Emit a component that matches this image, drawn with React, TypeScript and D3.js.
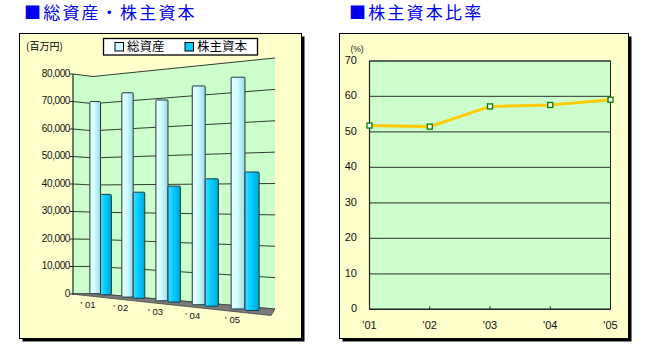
import React from "react";
import * as d3 from "d3";

// data
const years = ["01", "02", "03", "04", "05"];
const totalAssets = [70700, 73100, 69800, 73800, 75800]; // 総資産 (百万円)
const equity = [36600, 37600, 39900, 42500, 44800]; // 株主資本 (百万円)
const equityRatio = [51.8, 51.5, 57.2, 57.6, 59.1]; // 株主資本比率 (%)
const amountTicks = [0, 10000, 20000, 30000, 40000, 50000, 60000, 70000, 80000];
const ratioTicks = [0, 10, 20, 30, 40, 50, 60, 70];
const seriesNames = ["総資産", "株主資本"];

const JP = "'Noto Sans CJK JP', sans-serif";
const NUM = "'Liberation Sans', Arial, sans-serif";
const FRAME_BG = "#FFFFCC";
const PLOT_BG = "#CCFFCC";

// ---------- 3D bar chart (left) ----------
function AssetChart() {
  // horizontal position in "column units", then a simple perspective
  const uBand = d3.scaleBand<string>().domain(years).range([-0.5, 4.5]).paddingInner(0.32).paddingOuter(0.16);
  const uSeries = d3.scaleBand<string>().domain(seriesNames).range([0, uBand.bandwidth()]);
  const vScale = d3.scaleLinear().domain([0, 80000]).range([0, 218.4]);

  const C = -0.0308;
  const k = (u: number) => 1 / (1 + C * u);
  const kv = (u: number) => 1 / (1 - 0.028 * u); // vertical growth is a bit weaker
  const px = (u: number) => 100.5 + 31.67 * u * k(u);
  const base = (u: number) => 294.2 + 3.4 * u * k(u);

  // back wall / side wall edges
  const xSide = 73, xKink = 93, xRight = 275;
  const ySide = d3.scaleLinear().domain([0, 80000]).range([294, 74]);
  const yKink = d3.scaleLinear().domain([0, 80000]).range([293.5, 76.5]);
  const yRight = d3.scaleLinear().domain([0, 80000]).range([309, 58]);

  const wall = [
    [xSide, ySide(80000)], [xKink, yKink(80000)], [xRight, yRight(80000)],
    [xRight, yRight(0)], [xKink, yKink(0)], [xSide, ySide(0)],
  ];
  const line = d3.line();

  const uMin = -0.72, uMax = 4.62;
  const floor = [
    [xSide, ySide(0)], [xKink, yKink(0)], [xRight, yRight(0)],
    [px(uMax), base(uMax) + 3], [px(uMin), base(uMin) + 3],
  ];

  const bars: { x0: number; x1: number; y: number; h: number; s: number }[] = [];
  years.forEach((yr, i) => {
    [totalAssets[i], equity[i]].forEach((v, s) => {
      const u0 = (uBand(yr) as number) + (uSeries(seriesNames[s]) as number);
      const u1 = u0 + uSeries.bandwidth();
      const um = (u0 + u1) / 2;
      const h = vScale(v) * kv(um);
      bars.push({ x0: px(u0), x1: px(u1), y: base(um) - h, h, s });
    });
  });

  return (
    <g>
      <rect x={22.5} y={36.5} width={282} height={305} fill="#000" />
      <rect x={19.5} y={33.5} width={282} height={305} fill={FRAME_BG} stroke="#000" strokeWidth={1} />
      <text x={26} y={50} fontFamily={JP} fontSize={10} fill="#000">(百万円)</text>

      <path d={line(wall as [number, number][]) + "Z"} fill={PLOT_BG} />
      {amountTicks.map((t) => (
        <polyline
          key={t}
          points={`${xSide},${ySide(t)} ${xKink},${yKink(t)} ${xRight},${yRight(t)}`}
          fill="none"
          stroke="#2f3f2f"
          strokeWidth={1}
        />
      ))}
      <path d={line(floor as [number, number][]) + "Z"} fill="#7a7a7a" stroke="#444" strokeWidth={0.8} />

      <line x1={xSide} x2={xSide} y1={ySide(80000)} y2={ySide(0) + 1} stroke="#222" strokeWidth={1.2} />
      {amountTicks.map((t) => (
        <g key={t}>
          <line x1={xSide - 3} x2={xSide} y1={ySide(t)} y2={ySide(t)} stroke="#222" />
          <text
            x={xSide - 3}
            y={ySide(t)}
            textAnchor="end"
            dominantBaseline="middle"
            fontFamily={NUM}
            fontSize={10}
            letterSpacing={-0.4}
            fill="#111"
          >
            {d3.format(",")(t)}
          </text>
        </g>
      ))}

      {bars.map((b, i) => (
        <rect
          key={i}
          x={b.x0}
          y={b.y}
          width={b.x1 - b.x0}
          height={b.h}
          rx={1}
          fill={b.s === 0 ? "url(#gTotal)" : "url(#gEquity)"}
          stroke="#1c3a44"
          strokeWidth={1}
        />
      ))}

      {years.map((yr, i) => {
        const u = (uBand(yr) as number) + uBand.bandwidth() / 2;
        return (
          <text
            key={yr}
            x={px(u) - 12.5}
            y={base(u) + 11}
            textAnchor="middle"
            dominantBaseline="middle"
            fontFamily={NUM}
            fontSize={9.5}
            fill="#111"
          >
            {"' " + yr}
          </text>
        );
      })}

      {/* legend */}
      <rect x={103.5} y={38.5} width={154} height={16.5} fill="#fff" stroke="#000" strokeWidth={1.3} />
      <rect x={115} y={42.5} width={8.5} height={8.5} fill="#CCFFFF" stroke="#000" strokeWidth={1} />
      <text x={127} y={47.5} dominantBaseline="middle" fontFamily={JP} fontSize={12.5} fill="#000">総資産</text>
      <rect x={185} y={42.5} width={8.5} height={8.5} fill="#00CCFF" stroke="#000" strokeWidth={1} />
      <text x={197} y={47.5} dominantBaseline="middle" fontFamily={JP} fontSize={12.5} fill="#000">株主資本</text>
    </g>
  );
}

// ---------- line chart (right) ----------
function RatioChart() {
  const x = d3.scalePoint<string>().domain(years).range([369.5, 610.5]);
  const y = d3.scaleLinear().domain([0, 70]).range([309.3, 61]);
  const path = d3
    .line<number>()
    .x((_, i) => x(years[i]) as number)
    .y((d) => y(d))(equityRatio);

  return (
    <g>
      <rect x={342.5} y={36.5} width={289} height={305} fill="#000" />
      <rect x={339.5} y={33.5} width={289} height={305} fill={FRAME_BG} stroke="#000" strokeWidth={1} />
      <rect x={369.5} y={y(70)} width={241} height={y(0) - y(70)} fill={PLOT_BG} stroke="#222" strokeWidth={1} />
      {ratioTicks.map((t) => (
        <g key={t}>
          <line x1={369.5} x2={610.5} y1={y(t)} y2={y(t)} stroke="#4a5a4a" strokeWidth={1.3} />
          <text x={357} y={y(t)} textAnchor="end" dominantBaseline="middle" fontFamily={NUM} fontSize={11} fill="#111">
            {t}
          </text>
        </g>
      ))}
      <line x1={369.5} x2={369.5} y1={y(70)} y2={y(0)} stroke="#222" strokeWidth={1.2} />
      <line x1={369.5} x2={610.5} y1={y(0)} y2={y(0)} stroke="#222" strokeWidth={1.2} />
      {years.map((yr) => (
        <g key={yr}>
          <line x1={x(yr)} x2={x(yr)} y1={y(0)} y2={y(0) - 3} stroke="#222" />
          <text x={x(yr)} y={326} textAnchor="middle" dominantBaseline="middle" fontFamily={NUM} fontSize={11} fill="#111">
            {"'" + yr}
          </text>
        </g>
      ))}
      <text x={357} y={50} textAnchor="middle" dominantBaseline="middle" fontFamily={NUM} fontSize={8.5} fill="#111">
        (%)
      </text>
      <path d={path as string} fill="none" stroke="#FFCC00" strokeWidth={3} />
      {equityRatio.map((v, i) => (
        <rect
          key={i}
          x={(x(years[i]) as number) - 2.5}
          y={y(v) - 2.5}
          width={5}
          height={5}
          fill="#fff"
          stroke="#008000"
          strokeWidth={1.3}
        />
      ))}
    </g>
  );
}

export default function App() {
  return (
    <svg
      width={650}
      height={353}
      style={{ position: "absolute", left: 0, top: 0, background: "#fff" }}
    >
      <defs>
        <linearGradient id="gTotal" x1="0" x2="1" y1="0" y2="0">
          <stop offset="0" stopColor="#F2FFFF" />
          <stop offset="0.45" stopColor="#CCFFFF" />
          <stop offset="1" stopColor="#9ED8E4" />
        </linearGradient>
        <linearGradient id="gEquity" x1="0" x2="1" y1="0" y2="0">
          <stop offset="0" stopColor="#40DDFF" />
          <stop offset="0.45" stopColor="#00CCFF" />
          <stop offset="1" stopColor="#00A6D4" />
        </linearGradient>
      </defs>
      <text x={24} y={19} fontFamily={JP} fontSize={17} letterSpacing={2.2} fill="#0000EE">
        ■総資産・株主資本
      </text>
      <text x={349} y={19} fontFamily={JP} fontSize={17} letterSpacing={2.2} fill="#0000EE">
        ■株主資本比率
      </text>
      <AssetChart />
      <RatioChart />
    </svg>
  );
}
